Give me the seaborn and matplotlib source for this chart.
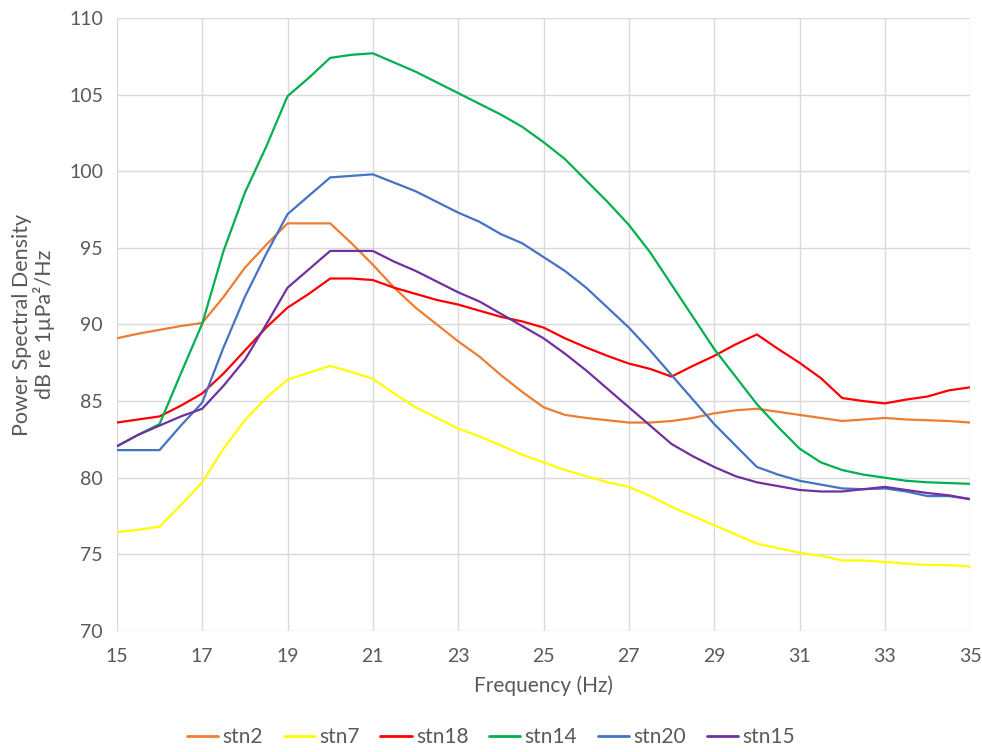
import numpy as np
import pandas as pd
import matplotlib
matplotlib.use("Agg")
import matplotlib.pyplot as plt
import seaborn as sns
from matplotlib.lines import Line2D

# Frequency grid (Hz), 0.5 Hz steps
freq = [15, 15.5, 16, 16.5, 17, 17.5, 18, 18.5, 19, 19.5, 20, 20.5, 21, 21.5, 22, 22.5,
        23, 23.5, 24, 24.5, 25, 25.5, 26, 26.5, 27, 27.5, 28, 28.5, 29, 29.5, 30, 30.5,
        31, 31.5, 32, 32.5, 33, 33.5, 34, 34.5, 35]

stn2 = [89.1, 89.4, 89.65, 89.9, 90.1, 91.8, 93.7, 95.2, 96.6, 96.6, 96.6, 95.3, 93.9, 92.4,
        91.1, 90.0, 88.9, 87.9, 86.7, 85.6, 84.6, 84.1, 83.9, 83.75, 83.6, 83.6, 83.7, 83.9,
        84.2, 84.4, 84.5, 84.3, 84.1, 83.9, 83.7, 83.8, 83.9, 83.8, 83.75, 83.7, 83.6]
stn7 = [76.45, 76.6, 76.8, 78.2, 79.7, 81.9, 83.75, 85.2, 86.4, 86.85, 87.3, 86.9, 86.45, 85.5,
        84.6, 83.9, 83.2, 82.7, 82.1, 81.5, 81.0, 80.5, 80.1, 79.7, 79.4, 78.8, 78.1, 77.5,
        76.9, 76.3, 75.7, 75.4, 75.1, 74.9, 74.6, 74.6, 74.5, 74.4, 74.3, 74.3, 74.2]
stn18 = [83.6, 83.8, 84.0, 84.7, 85.5, 86.8, 88.3, 89.8, 91.1, 92.0, 93.0, 93.0, 92.9, 92.4,
         92.0, 91.6, 91.3, 90.9, 90.5, 90.2, 89.8, 89.1, 88.5, 87.95, 87.45, 87.1, 86.6, 87.3,
         87.95, 88.7, 89.35, 88.4, 87.5, 86.5, 85.2, 85.0, 84.85, 85.1, 85.3, 85.7, 85.9]
stn14 = [82.05, 82.8, 83.5, 86.8, 90.05, 94.8, 98.6, 101.6, 104.9, 106.1, 107.4, 107.6, 107.7, 107.1,
         106.5, 105.8, 105.1, 104.4, 103.7, 102.9, 101.9, 100.8, 99.4, 98.0, 96.5, 94.7, 92.6, 90.5,
         88.4, 86.6, 84.8, 83.3, 81.9, 81.0, 80.5, 80.2, 80.0, 79.8, 79.7, 79.65, 79.6]
stn20 = [81.8, 81.8, 81.8, 83.4, 84.9, 88.5, 91.8, 94.6, 97.2, 98.4, 99.6, 99.7, 99.8, 99.25,
         98.7, 98.0, 97.3, 96.7, 95.9, 95.3, 94.4, 93.5, 92.4, 91.1, 89.8, 88.3, 86.7, 85.1,
         83.5, 82.1, 80.7, 80.2, 79.8, 79.55, 79.3, 79.25, 79.3, 79.1, 78.8, 78.8, 78.6]
stn15 = [82.05, 82.8, 83.4, 84.0, 84.5, 86.0, 87.7, 90.0, 92.4, 93.6, 94.8, 94.8, 94.8, 94.1,
         93.5, 92.8, 92.1, 91.5, 90.7, 89.9, 89.1, 88.1, 87.0, 85.8, 84.6, 83.4, 82.2, 81.4,
         80.7, 80.1, 79.7, 79.45, 79.2, 79.1, 79.1, 79.25, 79.4, 79.2, 79.0, 78.85, 78.6]

stations = ["stn2", "stn7", "stn18", "stn14", "stn20", "stn15"]
colors = ["#ED7D31", "#FFFF00", "#FF0000", "#00B050", "#4472C4", "#7030A0"]
series = [stn2, stn7, stn18, stn14, stn20, stn15]

xticks = [15, 17, 19, 21, 23, 25, 27, 29, 31, 33, 35]
yticks = [70, 75, 80, 85, 90, 95, 100, 105, 110]

df = pd.concat([pd.DataFrame({"Frequency": freq, "PSD": s, "Station": name})
                for name, s in zip(stations, series)], ignore_index=True)

sns.set_theme(style="white")
plt.rcParams['font.family'] = ['Lato', 'DejaVu Sans']

fig = plt.figure(figsize=(9.82, 7.52), dpi=100)
ax = fig.add_axes([0.119, 0.161, 0.869, 0.815])

sns.lineplot(data=df, x="Frequency", y="PSD", hue="Station", hue_order=stations,
             palette=colors, linewidth=1.6, ax=ax, legend=False, sort=False)

ax.set_xlim(15, 35)
ax.set_ylim(70, 110)
ax.set_xticks(xticks)
ax.set_yticks(yticks)
ax.grid(True, color="#D9D9D9", linewidth=1.0)
ax.set_axisbelow(True)
for sp in ax.spines.values():
    sp.set_visible(False)
ax.tick_params(axis="both", length=0, labelsize=14, labelcolor="#595959", pad=10)
ax.tick_params(axis="x", pad=12)

ax.set_xlabel("Frequency (Hz)", fontsize=15, color="#595959", labelpad=8)
ax.set_ylabel("Power Spectral Density\ndB re 1µPa²/Hz", fontsize=15.5, color="#595959",
              labelpad=10, linespacing=1.05)

handles = [Line2D([0], [0], color=c, linewidth=2) for c in colors]
fig.legend(handles, stations, loc="center", bbox_to_anchor=(0.5, 0.02), ncol=6,
           frameon=False, fontsize=15, handlelength=1.5, handletextpad=0.2,
           columnspacing=1.0, labelcolor="#595959")

fig.savefig("out.png", dpi=100)
